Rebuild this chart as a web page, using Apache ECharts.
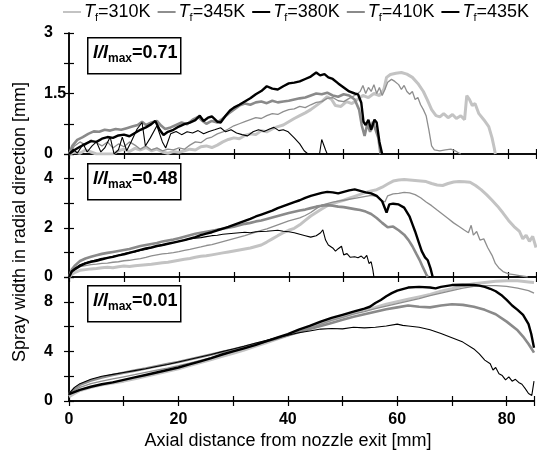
<!DOCTYPE html>
<html>
<head>
<meta charset="utf-8">
<script src="https://cdn.jsdelivr.net/npm/echarts@6.0.0/dist/echarts.min.js"></script>
<style>
  html, body { margin: 0; padding: 0; background: #fff; }
  #chart { width: 537px; height: 461px; }
</style>
</head>
<body>
<div id="chart"></div>
<script>
// legend entries (fuel temperature) and panel labels (I/Imax)
const temps = ['310K', '345K', '380K', '410K', '435K'];
const ratios = ['0.71', '0.48', '0.01'];

// y axis ranges per panel, tick step, labelled step
const yMax = [3, 5, 10];
const yTick = [0.75, 1, 2];
const yLabelStep = [1.5, 2, 4];

// x axis (mm)
const xMax = 85;
const xTick = 10;
const xLabelStep = 20;

// ---- panel 1: I/Imax = 0.71 ----
const p1_310 = [[0,0],[1,0.05],[2,0.02],[3,0.1],[4,0.05],[5,0],[8,0],[9,0.08],[10,0.12],[11,0.06],[12,0.14],[13,0.1],[14,0.16],[15,0.08],[16,0.12],[17,0.05],[18,0.02],[19,0.06],[20,0.04],[21,0.08],[22,0.12],[23,0.1],[24,0.18],[25,0.2],[26,0.16],[27,0.22],[28,0.3],[29,0.36],[30,0.4],[31,0.38],[32,0.46],[33,0.5],[34,0.48],[35,0.58],[36,0.55],[37,0.62],[38,0.68],[39,0.72],[40,0.8],[41,0.88],[42,0.95],[43,1.02],[44,1.1],[45,1.2],[46,1.3],[47,1.42],[47.8,1.35],[48.5,1.2],[49.5,1.18],[50.5,1.3],[51.5,1.25],[52.5,1.35],[53.5,1.45],[54.5,1.4],[55.5,1.5],[56.5,1.45],[57.3,1.6],[57.8,1.9],[58.5,1.97],[59.5,2.0],[60.5,2.02],[61.5,1.98],[62.5,1.9],[63.5,1.75],[64.5,1.55],[65.2,1.35],[66,1.1],[66.8,0.95],[67.5,0.92],[68.2,1.0],[69,0.9],[69.8,0.98],[70.5,0.88],[71.3,0.95],[72,0.85],[72.4,1.45],[72.9,1.35],[73.4,1.2],[73.9,1.25],[74.6,1.0],[75.5,0.85],[76.4,0.68],[77,0.4],[77.4,0.15],[77.6,0]];
const p1_345 = [[0,0],[1,0.2],[2,0.3],[3,0.22],[4,0.35],[5,0.28],[6,0.2],[7,0.3],[8,0.15],[9,0.25],[10,0.18],[11,0.3],[12,0.22],[13,0.12],[14,0.2],[15,0.1],[16,0.15],[17,0.08],[18,0.12],[19,0.1],[20,0.15],[21,0.12],[22,0.22],[23,0.3],[24,0.28],[25,0.38],[26,0.42],[27,0.5],[28,0.55],[29,0.62],[30,0.7],[31,0.75],[32,0.8],[33,0.85],[34,0.9],[35,0.88],[36,0.95],[37,1.0],[38,0.98],[39,1.05],[40,1.1],[41,1.12],[42,1.18],[43,1.15],[44,1.22],[45,1.28],[46,1.3],[47,1.38],[48,1.4],[49,1.32],[50,1.3],[51,1.38],[52,1.45],[53,1.55],[53.5,1.7],[54,1.5],[54.5,1.65],[55,1.55],[55.5,1.72],[56,1.5],[56.5,1.65],[57,1.45],[57.5,1.6],[58,1.78],[58.7,1.85],[59.3,1.8],[60,1.72],[60.5,1.6],[61,1.7],[61.5,1.55],[62,1.48],[62.5,1.55],[63,1.35],[63.5,1.4],[64,1.22],[64.5,1.1],[65,0.95],[65.5,0.6],[66,0.2],[66.5,0.1],[67.5,0.08],[68.5,0.1],[69.5,0.12],[70.3,0.08],[71,0.02],[71.3,0]];
const p1_380 = [[0,0],[1,0.1],[2,0.18],[3,0.25],[4,0.32],[5,0.3],[6,0.38],[7,0.42],[8,0.4],[9,0.46],[10,0.48],[11,0.44],[12,0.52],[13,0.6],[14,0.66],[15,0.74],[15.7,0.82],[16.5,0.6],[17.2,0.47],[18,0.55],[19,0.6],[20,0.68],[21,0.74],[22,0.78],[23,0.84],[23.8,0.95],[24.5,0.82],[25.3,0.9],[26,0.93],[27,0.8],[27.6,0.78],[28.5,0.95],[29.3,1.08],[30,1.15],[31,1.22],[32,1.3],[33,1.38],[34,1.48],[35,1.56],[36,1.68],[37,1.62],[38,1.6],[39,1.68],[40,1.75],[41,1.77],[42,1.8],[43,1.86],[44,1.92],[45,2.02],[45.7,1.95],[46.5,1.98],[47.2,1.9],[48,1.86],[49,1.75],[50,1.65],[51,1.55],[52,1.5],[52.6,1.48],[53.2,1.27],[53.6,0.8],[54,0.72],[54.5,0.85],[55,0.6],[55.6,0.85],[56,0.78],[56.5,0.3],[57,0]];
const p1_410 = [[0,0],[0.6,0.2],[1.5,0.35],[2.5,0.42],[3.5,0.5],[4.5,0.56],[5.5,0.55],[6.5,0.6],[7.5,0.58],[8.5,0.62],[9.5,0.6],[10.5,0.64],[11.5,0.68],[12.5,0.72],[13.3,0.8],[14,0.72],[15,0.78],[16,0.82],[16.8,0.7],[17.5,0.62],[18.5,0.66],[19.5,0.72],[20.5,0.78],[21.5,0.74],[22.5,0.85],[23.5,0.92],[24.3,0.82],[25,0.75],[26,0.82],[27,0.78],[28,0.88],[29,1.0],[30,1.1],[31,1.2],[32,1.25],[33,1.22],[34,1.28],[35,1.3],[36,1.26],[37,1.32],[38,1.28],[39,1.3],[40,1.32],[41,1.35],[42,1.38],[43,1.4],[44,1.45],[45,1.5],[46,1.48],[47,1.52],[48,1.45],[49,1.42],[50,1.48],[51,1.45],[52,1.35],[52.8,1.1],[53.3,0.7],[53.8,0.45],[54.3,0.75],[54.8,0.55],[55.3,0.8],[55.8,0.6],[56.3,0.4],[56.7,0]];
const p1_435 = [[0,0],[0.8,0.12],[1.5,0.02],[2.6,0.25],[3.3,0.05],[4.2,0.2],[5,0.3],[5.8,0.05],[6.5,0.15],[7.5,0.42],[8.2,0],[9,0.1],[9.7,0.42],[10.5,0.08],[11.3,0.3],[12.4,0.62],[13.3,0.78],[13.9,0.2],[14.8,0.4],[16,0.7],[17,0.3],[17.6,0.15],[18.5,0.5],[19.5,0.56],[20.5,0.48],[21.5,0.55],[22.5,0.52],[23.5,0.58],[24.5,0.5],[25.5,0.56],[26.5,0.6],[27.6,0.65],[28.5,0.55],[29.5,0.6],[30.5,0.52],[31.5,0.48],[32.5,0.45],[33.5,0.55],[34.5,0.6],[35.5,0.56],[36.5,0.62],[37.3,0.66],[38.2,0.58],[39,0.6],[39.9,0.55],[41,0.4],[42,0.25],[42.8,0.08],[43.5,0],[45.6,0],[46,0.36],[46.3,0.4],[46.7,0.1],[47,0]];

// ---- panel 2: I/Imax = 0.48 ----
const p2_310 = [[0,0],[0.5,0.1],[1,0.18],[2,0.27],[3,0.3],[4,0.33],[5,0.35],[6,0.38],[7,0.4],[8,0.38],[9,0.42],[10,0.45],[11,0.43],[12,0.46],[13,0.48],[14,0.5],[15,0.52],[16,0.55],[17,0.58],[18,0.6],[19,0.64],[20,0.68],[21,0.72],[22,0.75],[23,0.8],[24,0.84],[25,0.86],[26,0.9],[27,0.94],[28,0.98],[29,1.02],[30,1.06],[31,1.1],[32,1.14],[33,1.18],[34,1.24],[35,1.3],[36,1.42],[37,1.55],[38,1.68],[39,1.8],[40,1.9],[41,1.98],[42,2.12],[43,2.3],[44,2.48],[45,2.62],[46,2.76],[47,2.9],[48,2.98],[49,3.06],[50,3.12],[51,3.2],[52,3.28],[53,3.36],[54,3.44],[55,3.5],[56,3.55],[57,3.65],[58,3.78],[59,3.9],[60,3.94],[61,3.96],[62,3.94],[63,3.92],[64,3.9],[65,3.88],[66,3.8],[67,3.74],[68,3.72],[69,3.8],[70,3.86],[71,3.88],[72,3.87],[73,3.85],[74,3.72],[75,3.55],[76,3.35],[77,3.12],[78,2.88],[79,2.6],[80,2.3],[81,2.05],[82,1.85],[82.6,1.55],[83.2,1.7],[83.8,1.45],[84.4,1.65],[85,1.2]];
const p2_345 = [[0,0],[0.5,0.2],[1,0.3],[2,0.42],[3,0.46],[4,0.5],[5,0.52],[6,0.55],[7,0.56],[8,0.6],[9,0.62],[10,0.66],[11,0.68],[12,0.72],[13,0.75],[14,0.8],[15,0.86],[16,0.9],[17,0.94],[18,0.96],[19,0.99],[20,1.03],[21,1.08],[22,1.12],[23,1.17],[24,1.22],[25,1.28],[26,1.32],[27,1.38],[28,1.44],[29,1.5],[30,1.56],[31,1.62],[32,1.68],[33,1.75],[34,1.82],[35,1.9],[36,1.96],[37,2.04],[38,2.12],[39,2.2],[40,2.28],[41,2.34],[42,2.4],[43,2.5],[44,2.62],[45,2.78],[46,2.92],[47,2.98],[48,3.04],[49,3.08],[50,3.12],[51,3.16],[52,3.2],[53,3.24],[54,3.28],[55,3.32],[56,3.28],[57,3.1],[57.5,3.05],[58,3.3],[59,3.38],[60,3.4],[61,3.44],[62,3.42],[63,3.35],[64,3.22],[65,3.05],[66,2.9],[67,2.72],[68,2.55],[69,2.38],[70,2.2],[71,2.05],[72,1.9],[72.7,1.8],[73.2,2.1],[73.6,1.7],[74.2,1.85],[74.8,1.5],[75.5,1.55],[76.2,1.2],[77,0.88],[77.6,0.55],[78.2,0.38],[79,0.22],[80,0.13],[81,0.1],[82,0.06],[83,0.02],[83.5,0]];
const p2_380 = [[0,0],[0.5,0.22],[1,0.3],[2,0.45],[3,0.55],[4,0.62],[5,0.66],[6,0.72],[7,0.78],[8,0.82],[9,0.88],[10,0.92],[11,0.98],[12,1.04],[13,1.1],[14,1.16],[15,1.2],[16,1.26],[17,1.3],[18,1.35],[19,1.4],[20,1.45],[21,1.5],[22,1.56],[23,1.62],[24,1.7],[25,1.76],[26,1.82],[27,1.9],[28,1.97],[29,2.04],[30,2.12],[31,2.2],[32,2.28],[33,2.36],[34,2.46],[35,2.54],[36,2.62],[37,2.7],[38,2.8],[39,2.88],[40,2.96],[41,3.04],[42,3.12],[43,3.22],[44,3.3],[45,3.36],[46,3.42],[47,3.46],[48,3.44],[49,3.4],[50,3.46],[51,3.52],[52,3.56],[53,3.5],[54,3.44],[55,3.4],[56,3.3],[57,3.08],[57.8,2.62],[58.3,2.95],[59,2.98],[60,2.95],[61,2.82],[62,2.45],[62.5,2.15],[63,1.85],[63.6,1.45],[64.2,1.05],[64.8,0.8],[65.3,0.68],[65.8,0.35],[66.2,0]];
const p2_410 = [[0,0],[0.5,0.3],[1,0.45],[2,0.65],[3,0.75],[4,0.82],[5,0.88],[6,0.94],[7,0.98],[8,1.02],[9,1.06],[10,1.1],[11,1.14],[12,1.2],[13,1.26],[14,1.3],[15,1.34],[16,1.38],[17,1.44],[18,1.48],[19,1.52],[20,1.58],[21,1.64],[22,1.7],[23,1.76],[24,1.8],[25,1.84],[26,1.88],[27,1.92],[28,1.96],[29,2.0],[30,2.04],[31,2.1],[32,2.16],[33,2.2],[34,2.26],[35,2.3],[36,2.36],[37,2.42],[38,2.48],[39,2.54],[40,2.6],[41,2.65],[42,2.7],[43,2.74],[44,2.8],[45,2.86],[46,2.9],[47,2.92],[48,2.9],[49,2.86],[50,2.84],[51,2.8],[52,2.76],[53,2.72],[54,2.66],[55,2.56],[56,2.4],[57,2.2],[58,2.02],[59,2.05],[60,1.9],[61,1.72],[61.8,1.5],[62.5,1.25],[63.2,0.95],[63.8,0.7],[64.4,0.4],[65,0.12],[65.3,0]];
const p2_435 = [[0,0],[0.5,0.25],[1,0.35],[2,0.5],[3,0.58],[4,0.64],[5,0.7],[6,0.76],[7,0.78],[8,0.84],[9,0.88],[10,0.95],[11,1.0],[12,1.02],[13,1.08],[14,1.12],[15,1.2],[16,1.26],[17,1.28],[18,1.35],[19,1.4],[20,1.45],[21,1.5],[22,1.55],[23,1.58],[24,1.6],[25,1.64],[26,1.68],[27,1.7],[28,1.74],[29,1.76],[30,1.78],[31,1.8],[32,1.82],[33,1.8],[34,1.84],[35,1.85],[36,1.86],[37,1.88],[38,1.9],[39,1.86],[40,1.84],[41,1.8],[42,1.74],[43,1.68],[44,1.62],[45,1.68],[45.8,1.8],[46.2,1.92],[46.7,1.5],[47.2,1.3],[48,1.18],[48.5,1.05],[49,1.15],[49.6,1.25],[50,0.9],[50.6,0.95],[51.2,0.8],[52,0.82],[52.6,0.78],[53.2,0.85],[53.7,0.75],[54.2,0.88],[54.6,0.55],[55,0.62],[55.3,0.3],[55.5,0]];

// ---- panel 3: I/Imax = 0.01 ----
const p3_310 = [[0,0.35],[1,0.6],[2,0.85],[4,1.1],[6,1.3],[8,1.45],[10,1.6],[12,1.8],[14,2.0],[16,2.2],[18,2.4],[20,2.6],[22,2.85],[24,3.1],[26,3.35],[28,3.6],[30,3.85],[32,4.1],[34,4.4],[36,4.7],[38,5.0],[40,5.3],[42,5.65],[44,5.95],[46,6.25],[48,6.55],[50,6.8],[52,7.1],[54,7.35],[56,7.55],[58,7.8],[60,8.0],[62,8.2],[64,8.4],[66,8.6],[68,8.85],[70,9.05],[72,9.3],[74,9.45],[76,9.55],[78,9.65],[80,9.7],[82,9.7],[84,9.6],[85,9.55]];
const p3_345 = [[0,0.5],[1,0.85],[2,1.1],[4,1.4],[6,1.6],[8,1.78],[10,1.95],[12,2.12],[14,2.3],[16,2.48],[18,2.66],[20,2.85],[22,3.05],[24,3.28],[26,3.5],[28,3.75],[30,4.0],[32,4.25],[34,4.5],[36,4.78],[38,5.05],[40,5.3],[42,5.6],[44,5.9],[46,6.2],[48,6.5],[50,6.75],[52,7.0],[54,7.2],[56,7.45],[58,7.65],[60,7.85],[62,8.05],[64,8.25],[66,8.5],[68,8.7],[70,8.9],[72,9.1],[74,9.25],[76,9.3],[78,9.3],[80,9.25],[82,9.1],[84,8.9],[85,8.7]];
const p3_380 = [[0,0.55],[2,0.9],[4,1.15],[6,1.35],[8,1.5],[10,1.7],[12,1.9],[14,2.1],[16,2.3],[18,2.5],[20,2.7],[22,2.95],[24,3.2],[26,3.45],[28,3.75],[30,4.0],[32,4.25],[34,4.5],[36,4.8],[38,5.1],[40,5.4],[42,5.75],[44,6.05],[46,6.4],[48,6.7],[50,6.95],[52,7.2],[54,7.45],[55,7.6],[56,7.9],[57,8.15],[58,8.45],[59,8.7],[60,8.9],[62,9.15],[64,9.2],[66,9.15],[67,9.08],[68,9.2],[70,9.35],[72,9.38],[74,9.35],[75,9.3],[76,9.2],[77,9.05],[78,8.85],[79,8.55],[80,8.15],[81,7.7],[82,7.35],[83,6.95],[84,6.2],[84.5,5.4],[85,4.3]];
const p3_410 = [[0,0.55],[1,1.0],[2,1.3],[4,1.65],[6,1.9],[8,2.1],[10,2.28],[12,2.45],[14,2.62],[16,2.8],[18,2.98],[20,3.15],[22,3.35],[24,3.55],[26,3.75],[28,3.95],[30,4.15],[32,4.38],[34,4.6],[36,4.82],[38,5.05],[40,5.3],[42,5.55],[44,5.8],[46,6.05],[48,6.3],[50,6.55],[52,6.8],[54,7.0],[56,7.2],[58,7.4],[60,7.55],[62,7.7],[64,7.6],[66,7.55],[68,7.7],[70,7.8],[72,7.75],[74,7.6],[76,7.35],[78,7.0],[80,6.4],[82,5.7],[83,5.2],[84,4.6],[85,3.9]];
const p3_435 = [[0,0.6],[1,1.1],[2,1.4],[4,1.75],[6,2.0],[8,2.15],[10,2.3],[12,2.45],[14,2.6],[16,2.78],[18,2.95],[20,3.15],[22,3.35],[24,3.55],[26,3.75],[28,3.98],[30,4.2],[32,4.42],[34,4.65],[36,4.88],[38,5.1],[40,5.3],[42,5.5],[44,5.65],[46,5.8],[48,5.85],[50,5.82],[52,5.95],[54,5.9],[56,5.95],[58,6.05],[60,6.2],[61,6.1],[62,6.05],[64,5.95],[66,5.75],[68,5.45],[70,5.1],[72,4.75],[74,4.2],[75,3.8],[76,3.3],[77,3.0],[77.5,2.5],[78,2.7],[78.6,2.2],[79.2,2.05],[79.8,1.7],[80.4,1.95],[81,1.6],[81.6,1.75],[82.2,1.5],[82.8,1.35],[83.4,1.0],[84,0.6],[84.6,0.45],[85,1.6]];

const panels = [
  { '310K': p1_310, '345K': p1_345, '380K': p1_380, '410K': p1_410, '435K': p1_435 },
  { '310K': p2_310, '345K': p2_345, '380K': p2_380, '410K': p2_410, '435K': p2_435 },
  { '310K': p3_310, '345K': p3_345, '380K': p3_380, '410K': p3_410, '435K': p3_435 }
];

const lineStyles = {
  '310K': { color: '#c3c3c3', width: 3 },
  '345K': { color: '#8e8e8e', width: 1.3 },
  '380K': { color: '#000000', width: 2.4 },
  '410K': { color: '#8a8a8a', width: 2.6 },
  '435K': { color: '#000000', width: 1.1 }
};
const drawOrder = ['310K', '345K', '410K', '380K', '435K'];

const gridTops = [33, 154, 277];
const gridHeights = [121, 123, 124];
const font = 'Arial, "Liberation Sans", sans-serif';

function isStep(v, step) {
  return Math.abs(v / step - Math.round(v / step)) < 1e-6;
}

const grids = gridTops.map((top, i) => ({ left: 69, right: 1, top, height: gridHeights[i] }));

const axisLine = { show: true, lineStyle: { color: '#000', width: 1.5 } };
const tick = { show: true, inside: true, length: 5, lineStyle: { color: '#000', width: 1.2 } };

const xAxes = [];
const yAxes = [];
[0, 1, 2].forEach((i) => {
  xAxes.push({
    gridIndex: i, type: 'value', position: 'bottom', min: 0, max: xMax, interval: xTick,
    axisLine, axisTick: tick, splitLine: { show: false },
    axisLabel: i === 2 ? {
      margin: 11, color: '#000', fontSize: 16, fontWeight: 'bold', fontFamily: font,
      formatter: (v) => (isStep(v, xLabelStep) ? String(v) : '')
    } : { show: false }
  });
});
[0, 1, 2].forEach((i) => {
  xAxes.push({
    gridIndex: i, type: 'value', position: 'top', min: 0, max: xMax, interval: xTick,
    axisLine, axisTick: tick, splitLine: { show: false }, axisLabel: { show: false }
  });
});
[0, 1, 2].forEach((i) => {
  yAxes.push({
    gridIndex: i, type: 'value', position: 'left', min: 0, max: yMax[i], interval: yTick[i],
    axisLine, axisTick: tick, splitLine: { show: false },
    axisLabel: {
      margin: 25, align: 'left', color: '#000', fontSize: 16, fontWeight: 'bold', fontFamily: font,
      formatter: (v) => (isStep(v, yLabelStep[i]) ? String(v) : '')
    }
  });
});
[0, 1, 2].forEach((i) => {
  yAxes.push({
    gridIndex: i, type: 'value', position: 'right', min: 0, max: yMax[i], interval: yTick[i],
    axisLine, axisTick: tick, splitLine: { show: false }, axisLabel: { show: false }
  });
});

const series = [];
panels.forEach((panel, i) => {
  drawOrder.forEach((t) => {
    series.push({
      name: t,
      type: 'line',
      xAxisIndex: i,
      yAxisIndex: i,
      data: panel[t],
      symbol: 'none',
      showSymbol: false,
      color: lineStyles[t].color,
      lineStyle: { color: lineStyles[t].color, width: lineStyles[t].width },
      animation: false,
      silent: true
    });
  });
});

const labelBoxes = [];
ratios.forEach((r, i) => {
  const top = [37, 163, 285][i];
  labelBoxes.push({
    type: 'rect', left: 87, top,
    shape: { width: 93, height: 36 },
    style: { fill: '#fff', stroke: '#000', lineWidth: 1.5 }
  });
  labelBoxes.push({
    type: 'text', left: 93, top: top + 7,
    style: {
      text: '{a|I/I}{b|max}{c|=' + r + '}',
      rich: {
        a: { fontSize: 18, fontWeight: 'bold', fontStyle: 'italic', fontFamily: font, lineHeight: 24, verticalAlign: 'middle' },
        b: { fontSize: 12, fontWeight: 'bold', fontFamily: font, lineHeight: 12, verticalAlign: 'bottom' },
        c: { fontSize: 18, fontWeight: 'bold', fontFamily: font, lineHeight: 24, verticalAlign: 'middle' }
      }
    }
  });
});

const chart = echarts.init(document.getElementById('chart'), null, { renderer: 'canvas' });
chart.setOption({
  animation: false,
  backgroundColor: '#fff',
  grid: grids,
  xAxis: xAxes,
  yAxis: yAxes,
  legend: {
    data: temps,
    left: 62, top: 3, width: 480, padding: 0,
    itemWidth: 18, itemHeight: 4, itemGap: 6,
    selectedMode: false,
    itemStyle: { opacity: 0 },
    formatter: (name) => '{i|T}{s|f}{n|=' + name + '}',
    textStyle: {
      color: '#000', fontSize: 18, fontFamily: font, padding: [0, 0, 0, -2],
      rich: {
        i: { fontSize: 18, fontStyle: 'italic', fontFamily: font, lineHeight: 22, verticalAlign: 'middle' },
        s: { fontSize: 11, fontFamily: font, lineHeight: 11, verticalAlign: 'bottom' },
        n: { fontSize: 18, fontFamily: font, lineHeight: 22, verticalAlign: 'middle' }
      }
    }
  },
  graphic: labelBoxes.concat([
    {
      type: 'text', x: 20, y: 222, rotation: Math.PI / 2,
      style: {
        text: 'Spray width in radial direction [mm]', fill: '#000',
        font: '18px ' + font, textAlign: 'center', textVerticalAlign: 'middle'
      }
    },
    {
      type: 'text', x: 288, y: 441,
      style: {
        text: 'Axial distance from nozzle exit [mm]', fill: '#000',
        font: '18px ' + font, textAlign: 'center', textVerticalAlign: 'middle'
      }
    }
  ]),
  series
});
</script>
</body>
</html>
